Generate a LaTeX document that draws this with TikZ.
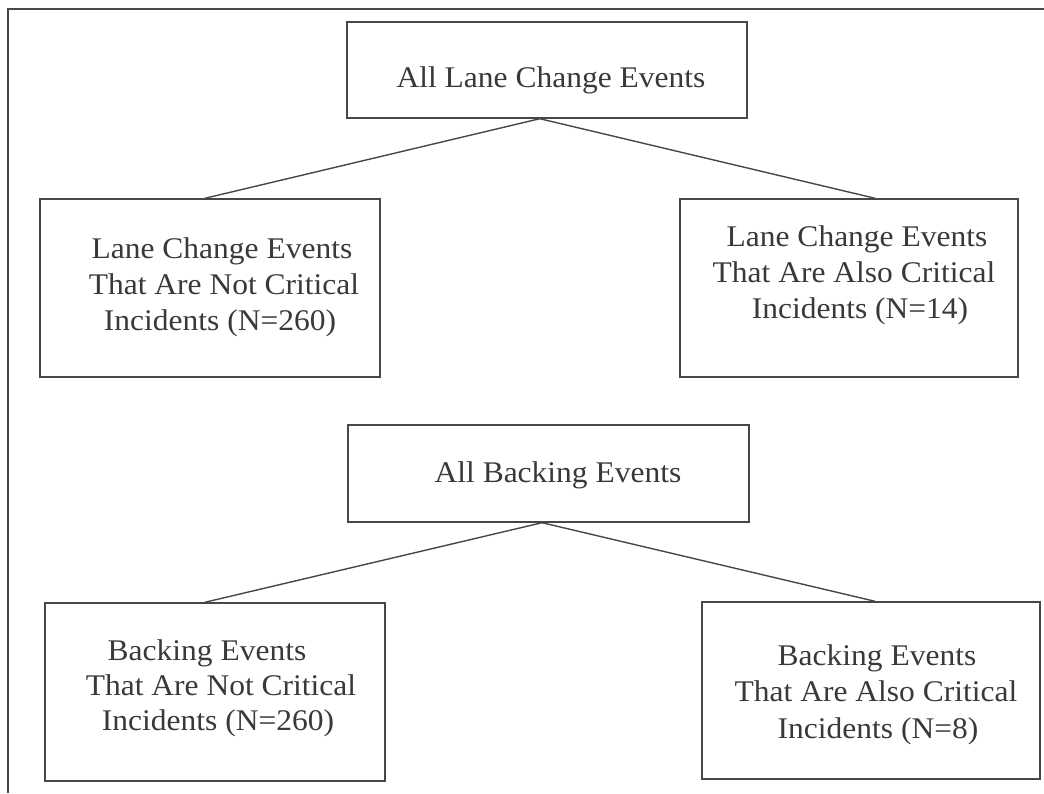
\documentclass[tikz,border=0pt]{standalone}
\usepackage{fontspec}
\setmainfont{Liberation Serif}[FakeStretch=1.05]
\usetikzlibrary{calc}
\definecolor{ink}{HTML}{3C3838}
\definecolor{edge}{HTML}{4A4646}
\begin{document}
\begin{tikzpicture}[x=1pt,y=-1pt,
  box/.style={draw=edge, line width=1.4pt, inner sep=0pt},
  lbl/.style={anchor=base, inner sep=0pt, text=ink, font=\fontsize{30}{36}\selectfont},
  link/.style={draw=edge, line width=1.4pt},
  frame/.style={draw=edge, line width=1.6pt}]
\useasboundingbox (0,0) rectangle (1044,793);
\fill[white] (0,0) rectangle (1044,793);
% frame
\coordinate (fr1) at (1044,9);
\coordinate (fr2) at (8,9);
\coordinate (fr3) at (8,793);
\draw[frame] (fr1) -- (fr2) -- (fr3);
% boxes
\node[box, minimum width=400pt, minimum height=96pt] (A) at (547,70) {};
\node[box, minimum width=340pt, minimum height=178pt] (B) at (210,288) {};
\node[box, minimum width=338pt, minimum height=178pt] (C) at (849,288) {};
\node[box, minimum width=401pt, minimum height=97pt] (D) at (548.5,473.5) {};
\node[box, minimum width=340pt, minimum height=178pt] (E) at (215,692) {};
\node[box, minimum width=338pt, minimum height=177pt] (F) at (871,690.5) {};
% texts
\node[lbl] (tA) at (551,87) {All Lane Change Events};
\node[lbl] (tB1) at (222,258) {Lane Change Events};
\node[lbl] (tB2) at (224,294) {That Are Not Critical};
\node[lbl] (tB3) at (220,330) {Incidents (N=260)};
\node[lbl] (tC1) at (857,246) {Lane Change Events};
\node[lbl] (tC2) at (854,282) {That Are Also Critical};
\node[lbl] (tC3) at (860,318) {Incidents (N=14)};
\node[lbl] (tD) at (558,482) {All Backing Events};
\node[lbl] (tE1) at (207,660) {Backing Events};
\node[lbl] (tE2) at (221,695) {That Are Not Critical};
\node[lbl] (tE3) at (218,730) {Incidents (N=260)};
\node[lbl] (tF1) at (877,665) {Backing Events};
\node[lbl] (tF2) at (876,701) {That Are Also Critical};
\node[lbl] (tF3) at (878,738) {Incidents (N=8)};
% connectors
\coordinate (Aout) at ($(A.south west)!0.482!(A.south east)$);
\coordinate (Bin) at ($(B.north west)!0.485!(B.north east)$);
\coordinate (Cin) at ($(C.north west)!0.577!(C.north east)$);
\coordinate (Dout) at ($(D.south west)!0.484!(D.south east)$);
\coordinate (Ein) at ($(E.north west)!0.47!(E.north east)$);
\coordinate (Fin) at ($(F.north west)!0.512!(F.north east)$);
\draw[link] (Aout) -- (Bin);
\draw[link] (Aout) -- (Cin);
\draw[link] (Dout) -- (Ein);
\draw[link] (Dout) -- (Fin);
\end{tikzpicture}
\end{document}
